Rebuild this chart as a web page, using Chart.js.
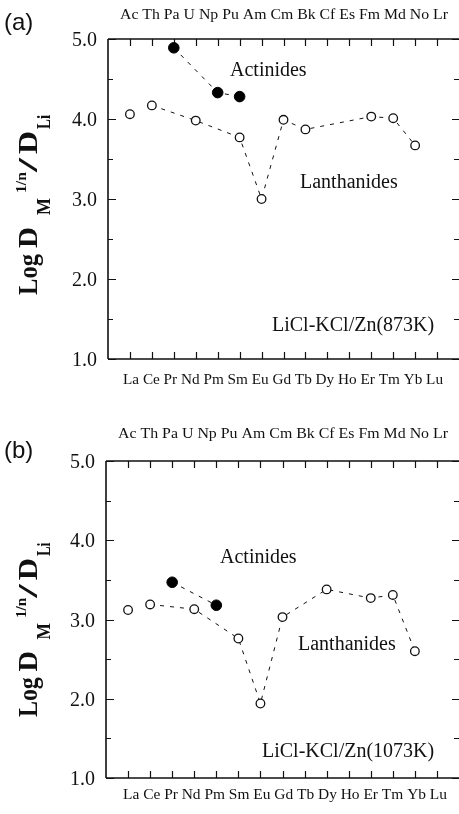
<!DOCTYPE html>
<html><head><meta charset="utf-8">
<script src="https://cdn.jsdelivr.net/npm/chart.js@4.4.0/dist/chart.umd.min.js"></script>
<style>
html,body{margin:0;padding:0;background:#fff;width:459px;height:814px;overflow:hidden}
.p{position:absolute;left:0;width:459px;height:407px}
#pa{top:0}#pb{top:407px}
canvas{display:block}
</style></head><body>
<div class="p" id="pa"><canvas id="ca" width="459" height="407"></canvas></div>
<div class="p" id="pb"><canvas id="cb" width="459" height="407"></canvas></div>
<script>
// ---- data ----
const lanthanides = ['La','Ce','Pr','Nd','Pm','Sm','Eu','Gd','Tb','Dy','Ho','Er','Tm','Yb','Lu'];
const actinides   = ['Ac','Th','Pa','U','Np','Pu','Am','Cm','Bk','Cf','Es','Fm','Md','No','Lr'];
const yTicks = [1.0, 2.0, 3.0, 4.0, 5.0];
// panel (a) LiCl-KCl/Zn(873K)
const lanA = [4.06, 4.17, null, 3.98, null, 3.77, 3.00, 3.99, 3.87, null, null, 4.03, 4.01, 3.67, null];
const actA = [null, null, 4.89, null, 4.33, 4.28, null, null, null, null, null, null, null, null, null];
// panel (b) LiCl-KCl/Zn(1073K)
const lanB = [3.12, 3.19, null, 3.13, null, 2.76, 1.94, 3.03, null, 3.38, null, 3.27, 3.31, 2.60, null];
const actB = [null, null, 3.47, null, 3.18, null, null, null, null, null, null, null, null, null, null];

const INK = '#111';
const SERIF = '"Liberation Serif","Times New Roman",serif';

function pts(arr){ return arr.map((v,i)=> v===null ? null : {x:i, y:v}).filter(Boolean); }

function fitText(ctx, s, x, y, w){
  const m = ctx.measureText(s).width;
  ctx.save(); ctx.translate(x, y); ctx.scale(w/m, 1);
  ctx.textAlign = 'left'; ctx.fillText(s, 0, 0); ctx.restore();
}

const framePlugin = {
  id: 'frame',
  beforeDatasetsDraw(chart, args, o){
    const ctx = chart.ctx, xs = chart.scales.x, ys = chart.scales.y, a = chart.chartArea;
    ctx.save();
    ctx.strokeStyle = INK; ctx.fillStyle = INK;
    // frame (right edge lies just beyond the canvas, as in the original)
    ctx.lineWidth = 1.6;
    ctx.beginPath();
    ctx.moveTo(a.left, a.top); ctx.lineTo(a.right + 2, a.top);
    ctx.moveTo(a.left, a.bottom); ctx.lineTo(a.right + 2, a.bottom);
    ctx.moveTo(a.left, a.top); ctx.lineTo(a.left, a.bottom);
    ctx.moveTo(a.right + 1.5, a.top); ctx.lineTo(a.right + 1.5, a.bottom);
    ctx.stroke();
    // x ticks (inward, top & bottom)
    ctx.lineWidth = 1.2;
    ctx.beginPath();
    lanthanides.forEach((_, i) => {
      const px = Math.round(xs.getPixelForValue(i)) + 0.5;
      ctx.moveTo(px, a.top); ctx.lineTo(px, a.top + 7);
      ctx.moveTo(px, a.bottom); ctx.lineTo(px, a.bottom - 7);
    });
    // y ticks major & minor (inward, left & right)
    yTicks.forEach(v => {
      const py = Math.round(ys.getPixelForValue(v)) + 0.5;
      ctx.moveTo(a.left, py); ctx.lineTo(a.left + 8, py);
      ctx.moveTo(a.right + 1, py); ctx.lineTo(a.right - 7, py);
      if (v < 5) {
        const pm = Math.round(ys.getPixelForValue(v + 0.5)) + 0.5;
        ctx.moveTo(a.left, pm); ctx.lineTo(a.left + 5, pm);
        ctx.moveTo(a.right + 1, pm); ctx.lineTo(a.right - 5, pm);
      }
    });
    ctx.stroke();
    // y tick labels
    ctx.font = '20px ' + SERIF; ctx.textAlign = 'right'; ctx.textBaseline = 'alphabetic';
    yTicks.forEach(v => {
      ctx.fillText(v.toFixed(1), a.left - 11, ys.getPixelForValue(v) + 7);
    });
    // top (actinide) and bottom (lanthanide) labels
    ctx.font = '14px ' + SERIF; ctx.textBaseline = 'middle';
    fitText(ctx, actinides.join(' '), o.top.x0, o.top.y, o.top.w);
    fitText(ctx, lanthanides.join(' '), o.bot.x0, o.bot.y, o.bot.w);
    // panel letter
    ctx.font = '24px "Liberation Sans", Arial, sans-serif'; ctx.textBaseline = 'middle';
    ctx.textAlign = 'left';
    ctx.fillText(o.letter, 4, o.letterY);
    // y-axis title (rotated)
    ctx.save();
    ctx.translate(37, o.titleStart);
    ctx.rotate(-Math.PI / 2);
    ctx.scale(o.titleScale, 1);
    ctx.textBaseline = 'alphabetic';
    const pieces = [
      ['Log', 0, 0, 'bold 28px', 41],
      ['D', 47, 0, 'bold 28px', 21],
      ['M', 80, 13, 'bold 19px', 17],
      ['1/n', 102, -11, 'bold 15px', 21],
      ['/', 123, 0, 'bold 28px', 14],
      ['D', 141, 0, 'bold 28px', 23],
      ['Li', 166, 13, 'bold 19px', 14]
    ];
    pieces.forEach(p => { ctx.font = p[3] + ' ' + SERIF; fitText(ctx, p[0], p[1], p[2], p[4]); });
    ctx.restore();
    // annotations
    ctx.font = '20px ' + SERIF; ctx.textAlign = 'left'; ctx.textBaseline = 'alphabetic';
    o.notes.forEach(n => ctx.fillText(n[0], n[1], n[2]));
    ctx.restore();
  }
};

function makePanel(id, lan, act, g){
  return new Chart(document.getElementById(id), {
    type: 'line',
    data: {
      datasets: [
        {
          data: pts(lan),
          borderColor: INK, borderWidth: 1, borderDash: [4, 6],
          pointRadius: 4.3, pointBorderWidth: 1.3,
          pointBackgroundColor: '#fff', pointBorderColor: INK,
          tension: 0, fill: false,
          segment: { borderColor: c => c.p0DataIndex === 0 ? 'rgba(0,0,0,0)' : INK }
        },
        {
          data: pts(act),
          borderColor: INK, borderWidth: 1, borderDash: [4, 6],
          pointRadius: 5.3, pointBorderWidth: 1,
          pointBackgroundColor: '#000', pointBorderColor: '#000',
          tension: 0, fill: false
        }
      ]
    },
    options: {
      responsive: false, animation: false,
      layout: { autoPadding: false, padding: g.pad },
      scales: {
        x: { type: 'linear', min: -1, max: 15, display: false },
        y: { type: 'linear', min: 1, max: 5, display: false }
      },
      plugins: { legend: { display: false }, tooltip: { enabled: false }, frame: g.frame }
    },
    plugins: [framePlugin]
  });
}

makePanel('ca', lanA, actA, {
  pad: { left: 108, top: 39, right: 0, bottom: 48 },
  frame: {
    letter: '(a)', letterY: 23,
    top: { x0: 120, y: 15, w: 328 },
    bot: { x0: 123, y: 380, w: 320 },
    titleStart: 295, titleScale: 1,
    notes: [['Actinides', 230, 76], ['Lanthanides', 300, 188], ['LiCl-KCl/Zn(873K)', 272, 331]]
  }
});
makePanel('cb', lanB, actB, {
  pad: { left: 106, top: 54, right: 0, bottom: 36 },
  frame: {
    letter: '(b)', letterY: 44,
    top: { x0: 118, y: 27, w: 330 },
    bot: { x0: 123, y: 388, w: 324 },
    titleStart: 310, titleScale: 0.97,
    notes: [['Actinides', 220, 156], ['Lanthanides', 298, 243], ['LiCl-KCl/Zn(1073K)', 262, 350]]
  }
});
</script>
</body></html>
